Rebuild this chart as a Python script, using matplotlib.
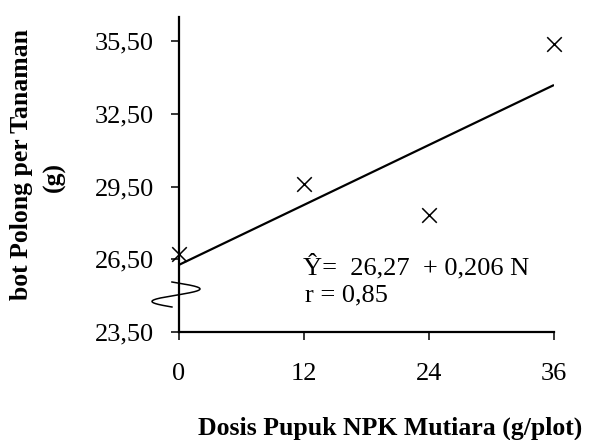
import numpy as np
import matplotlib
matplotlib.use("Agg")
import matplotlib.pyplot as plt

# data
dosis = [0, 12, 24, 36]
bobot = [26.70, 29.62, 28.32, 35.36]
a, b = 26.27, 0.206
x_ticks = [0, 12, 24, 36]
y_ticks = [23.5, 26.5, 29.5, 32.5, 35.5]
y_labels = ["23,50", "26,50", "29,50", "32,50", "35,50"]

plt.rcParams["font.family"] = ["Liberation Serif", "DejaVu Serif"]

W, H = 591, 440
fig = plt.figure(figsize=(W / 100, H / 100), dpi=100)
ax = fig.add_axes([179 / W, 1 - 332 / H, (554 - 179) / W, (332 - 17) / H])

ax.scatter(dosis, bobot, marker="x", s=110, color="black", linewidths=1.1, zorder=3, clip_on=False)
xx = np.array([dosis[0], dosis[-1]])
ax.plot(xx, a + b * xx, color="black", lw=1.6, solid_capstyle="butt")

ax.set_xlim(0, 36)
ax.set_ylim(23.5, 36.49)
ax.set_xticks(x_ticks)
ax.set_xticklabels([str(v) for v in x_ticks])
ax.set_yticks(y_ticks)
ax.set_yticklabels(y_labels)
ax.tick_params(direction="out", length=6, width=1.1, labelsize=19, pad=12, colors="black")
ax.tick_params(axis="x", pad=16)
for s in ["top", "right"]:
    ax.spines[s].set_visible(False)
for s in ["left", "bottom"]:
    ax.spines[s].set_linewidth(1.6)

# regression equation
ax.text(303 / W, 1 - 274 / H, "\u0176=  26,27  + 0,206 N", transform=fig.transFigure,
        fontsize=19, va="baseline", ha="left")
ax.text(305 / W, 1 - 301 / H, "r = 0,85", transform=fig.transFigure,
        fontsize=19, va="baseline", ha="left")

# axis break squiggle on the y axis
t = np.linspace(-0.17, 2 * np.pi - 0.17, 200)
sx = 176 + 24 * np.sin(t)
sy = 282 + 25 * (t + 0.17) / (2 * np.pi)
fig.add_artist(plt.Line2D(sx / W, 1 - sy / H, transform=fig.transFigure, color="black", lw=1.1))

# axis titles
fig.text(390 / W, 1 - 428 / H, "Dosis Pupuk NPK Mutiara (g/plot)", ha="center", va="center",
         fontsize=18.5, fontweight="bold")
fig.text(22 / W, 1 - 165 / H, "bot Polong per Tanaman", rotation=90, ha="center", va="center",
         fontsize=18.5, fontweight="bold")
fig.text(54 / W, 1 - 177 / H, "(g)", rotation=90, ha="center", va="center",
         fontsize=18.5, fontweight="bold")

fig.savefig("out.png", dpi=100)
